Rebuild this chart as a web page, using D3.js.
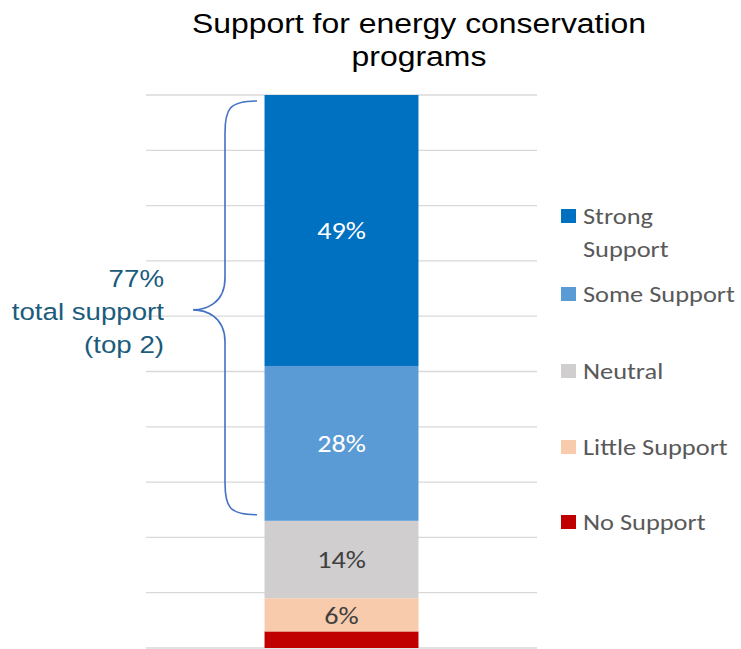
<!DOCTYPE html>
<html>
<head>
<meta charset="utf-8">
<script src="https://cdn.jsdelivr.net/npm/d3@7"></script>
<style>
  html, body { margin: 0; padding: 0; background: #fff; }
  svg { display: block; }
</style>
</head>
<body>
<svg id="chart" width="741" height="649"></svg>
<script>
// Survey responses, stacked bottom to top
const categories = ["No Support", "Little Support", "Neutral", "Some Support", "Strong Support"];
const values = [3, 6, 14, 28, 49];
const colors = ["#C00000", "#F8CBAD", "#D0CECE", "#5B9BD5", "#0070C0"];
const labelShown = [false, true, true, true, true];
const labelColors = ["#404040", "#404040", "#404040", "#ffffff", "#ffffff"];
const gridTicks = [0, 10, 20, 30, 40, 50, 60, 70, 80, 90, 100];
const legendOrder = ["Strong Support", "Some Support", "Neutral", "Little Support", "No Support"];
const titleLines = ["Support for energy conservation", "programs"];
const braceLines = ["77%", "total support", "(top 2)"];

const svg = d3.select("#chart");
const labelFont = "Carlito, Calibri, Lato, 'Open Sans', sans-serif";
const arialFont = "'Liberation Sans', Arial, sans-serif";

const y = d3.scaleLinear().domain([0, 100]).range([648, 95]);
const x = d3.scaleBand().domain(["all"]).range([146, 537]).paddingInner(0).paddingOuter(0.77);

// gridlines
svg.append("g").selectAll("line").data(gridTicks).join("line")
  .attr("x1", 146).attr("x2", 537)
  .attr("y1", d => y(d)).attr("y2", d => y(d))
  .attr("stroke", "#D9D9D9").attr("stroke-width", 1.3);

// stacked segments
let acc = 0;
const segs = values.map((v, i) => { const s = { i, v, y0: acc, y1: acc + v }; acc += v; return s; });

const bx = x("all"), bw = x.bandwidth();
svg.append("g").selectAll("rect").data(segs).join("rect")
  .attr("x", bx).attr("width", bw)
  .attr("y", d => y(d.y1)).attr("height", d => y(d.y0) - y(d.y1))
  .attr("fill", d => colors[d.i]);

svg.append("g").selectAll("text").data(segs.filter(d => labelShown[d.i])).join("text")
  .attr("transform", d => `translate(${bx + bw / 2},${y((d.y0 + d.y1) / 2)}) scale(1.15,1)`)
  .attr("dy", "0.36em").attr("text-anchor", "middle")
  .attr("font-family", labelFont).attr("font-size", 24.5)
  .attr("fill", d => labelColors[d.i])
  .text(d => d.v + "%");

// title
svg.append("g").selectAll("text").data(titleLines).join("text")
  .attr("transform", (d, i) => `translate(419,${32.5 + i * 33.5}) scale(1.14,1)`)
  .attr("text-anchor", "middle")
  .attr("font-family", arialFont).attr("font-size", 28)
  .attr("fill", "#000").text(d => d);

// brace spanning the top two segments
const top2Lo = segs[3].y0, top2Hi = segs[4].y1;
const bTop = y(top2Hi) + 6, bBot = y(top2Lo) - 6, bMid = y((top2Lo + top2Hi) / 2) + 2;
const xe = 257, xv = 225, xt = 193, r = 32;
const bracePath = `M${xe},${bTop} C${xv + 4},${bTop} ${xv},${bTop + 8} ${xv},${bTop + r}
  L${xv},${bMid - r} C${xv},${bMid - 6} ${xt + 12},${bMid} ${xt},${bMid}
  C${xt + 12},${bMid} ${xv},${bMid + 6} ${xv},${bMid + r}
  L${xv},${bBot - r} C${xv},${bBot - 8} ${xv + 4},${bBot} ${xe},${bBot}`;
svg.append("path").attr("d", bracePath)
  .attr("fill", "none").attr("stroke", "#4472C4").attr("stroke-width", 1.6);

svg.append("g").selectAll("text").data(braceLines).join("text")
  .attr("transform", (d, i) => `translate(164,${287 + i * 33}) scale(1.13,1)`)
  .attr("text-anchor", "end")
  .attr("font-family", arialFont).attr("font-size", 24.5)
  .attr("fill", "#1B5C7C").text(d => d);

// legend
const legendY = { "Strong Support": 216, "Some Support": 294, "Neutral": 371, "Little Support": 447, "No Support": 522 };
const lg = svg.append("g").selectAll("g").data(legendOrder).join("g")
  .attr("transform", d => `translate(561,${legendY[d]})`);
lg.append("rect").attr("x", 0).attr("y", -7).attr("width", 15).attr("height", 14)
  .attr("fill", d => colors[categories.indexOf(d)]);
lg.append("text").attr("transform", "translate(22,0) scale(1.2,1)").attr("dy", "0.36em")
  .attr("font-family", labelFont).attr("font-size", 22).attr("fill", "#595959")
  .each(function (d) {
    const t = d3.select(this);
    if (d === "Strong Support") {
      t.append("tspan").attr("x", 0).text("Strong");
      t.append("tspan").attr("x", 0).attr("dy", 33).text("Support");
    } else {
      t.text(d);
    }
  });
</script>
</body>
</html>
